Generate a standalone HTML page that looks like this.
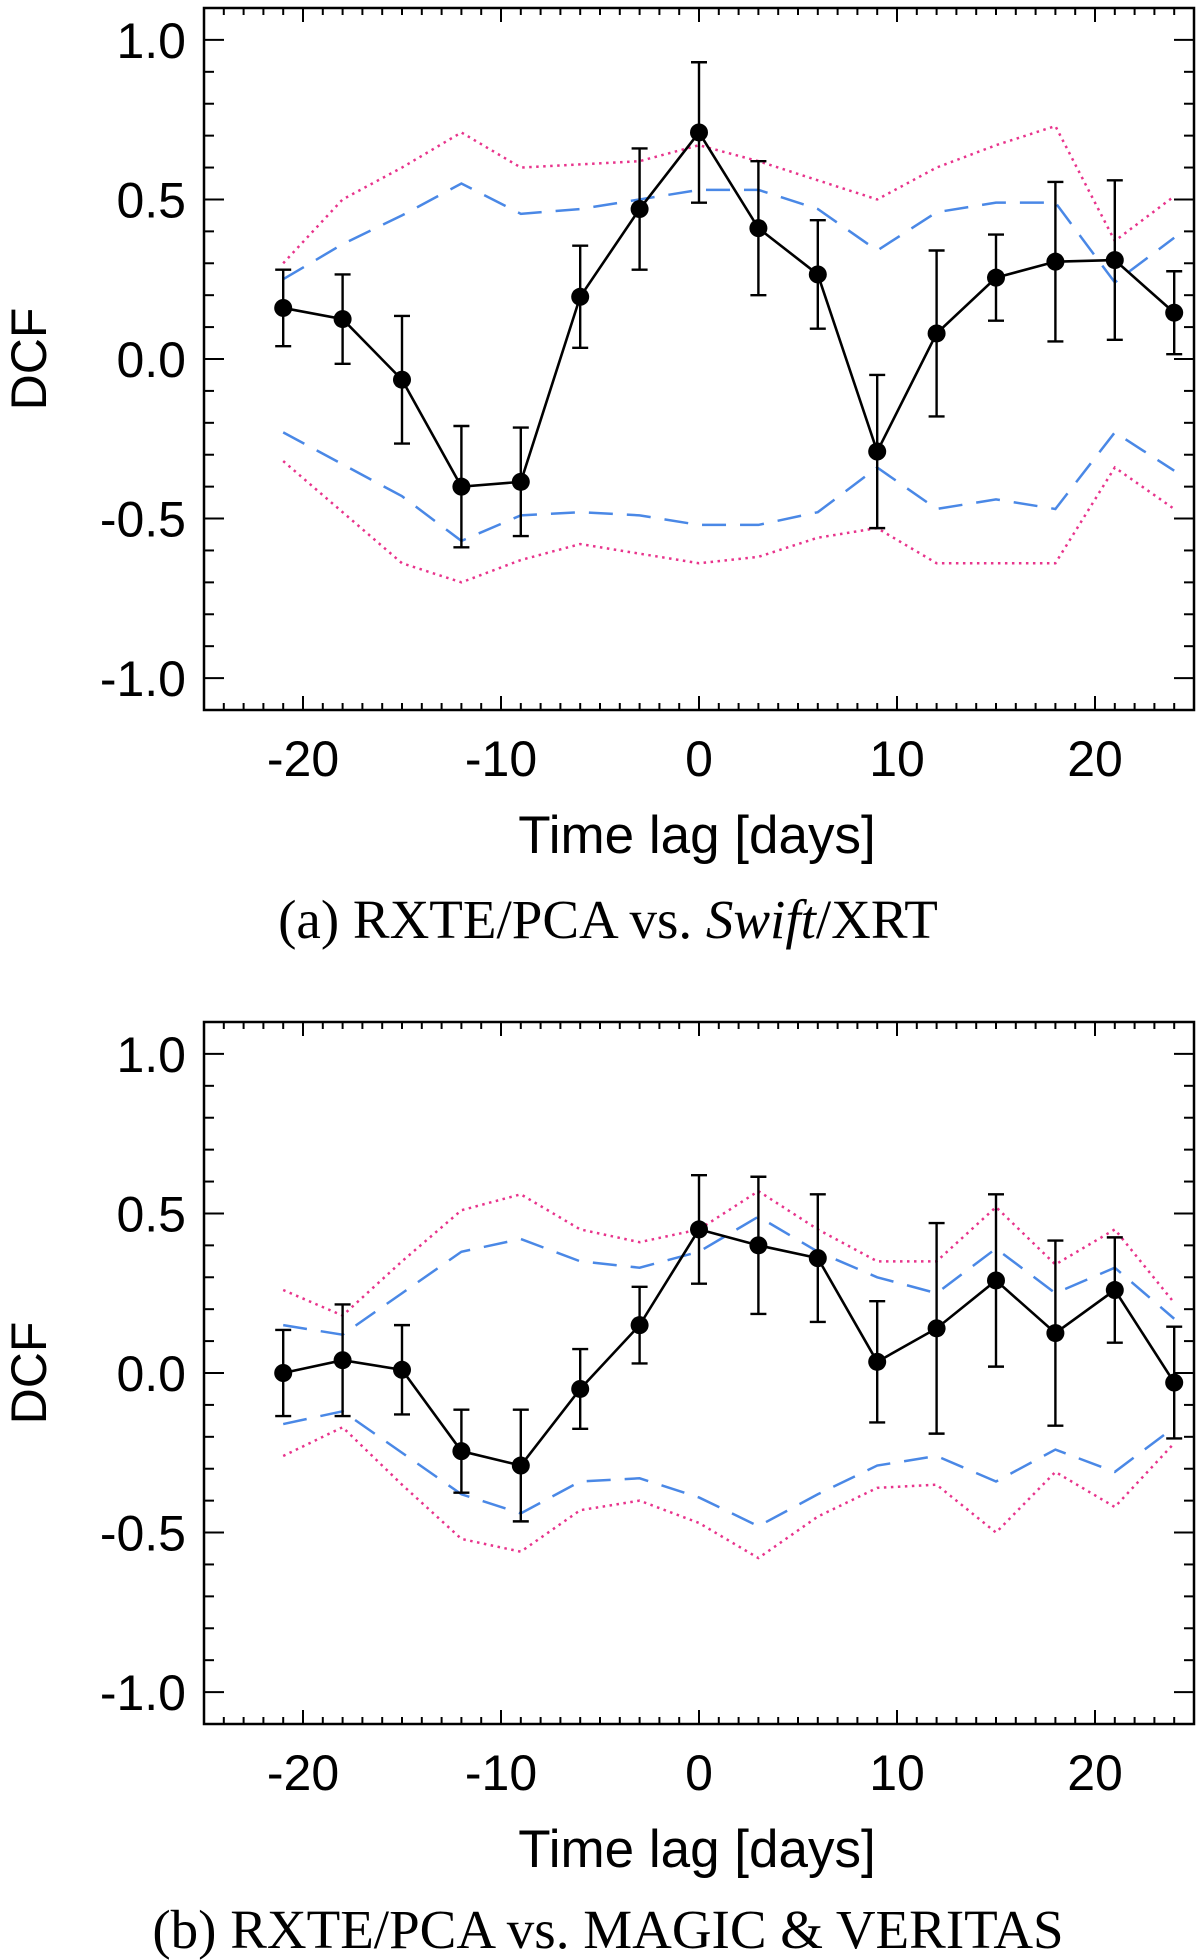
<!DOCTYPE html>
<html><head><meta charset="utf-8"><style>
html,body{margin:0;padding:0;background:#fff;}
svg{display:block;}
.tk{font-family:"Liberation Sans",Arial,sans-serif;font-size:50px;fill:#000;}
.tt{font-family:"Liberation Sans",Arial,sans-serif;font-size:53px;fill:#000;}
.cap{font-family:"Liberation Serif","Times New Roman",serif;font-size:55px;fill:#000;}
</style></head><body>
<svg id="fig" width="1200" height="1960" viewBox="0 0 1200 1960" xmlns="http://www.w3.org/2000/svg"></svg>
<script>
const lags = [-21,-18,-15,-12,-9,-6,-3,0,3,6,9,12,15,18,21,24];
const xTickLabels = [-20,-10,0,10,20];
const yTickLabels = ["-1.0","-0.5","0.0","0.5","1.0"];
const yTickValues = [-1.0,-0.5,0.0,0.5,1.0];

const dcfA = [0.16,0.125,-0.065,-0.40,-0.385,0.195,0.47,0.71,0.41,0.265,-0.29,0.08,0.255,0.305,0.31,0.145];
const errA = [0.12,0.14,0.2,0.19,0.17,0.16,0.19,0.22,0.21,0.17,0.24,0.26,0.135,0.25,0.25,0.13];
const blueUpA = [0.25,0.36,0.45,0.55,0.455,0.47,0.5,0.53,0.53,0.47,0.34,0.46,0.49,0.49,0.24,0.38];
const blueLoA = [-0.23,-0.33,-0.43,-0.57,-0.49,-0.48,-0.49,-0.52,-0.52,-0.48,-0.34,-0.47,-0.44,-0.47,-0.23,-0.35];
const pinkUpA = [0.30,0.5,0.6,0.71,0.6,0.61,0.62,0.67,0.62,0.56,0.50,0.6,0.67,0.73,0.37,0.51];
const pinkLoA = [-0.32,-0.48,-0.64,-0.70,-0.63,-0.58,-0.61,-0.64,-0.62,-0.56,-0.53,-0.64,-0.64,-0.64,-0.34,-0.47];

const dcfB = [0.0,0.04,0.01,-0.245,-0.29,-0.05,0.15,0.45,0.4,0.36,0.035,0.14,0.29,0.125,0.26,-0.03];
const errB = [0.135,0.175,0.14,0.13,0.175,0.125,0.12,0.17,0.215,0.2,0.19,0.33,0.27,0.29,0.165,0.175];
const blueUpB = [0.15,0.12,0.25,0.38,0.42,0.35,0.33,0.38,0.49,0.38,0.3,0.25,0.39,0.25,0.33,0.17];
const blueLoB = [-0.16,-0.12,-0.25,-0.38,-0.44,-0.34,-0.33,-0.39,-0.48,-0.38,-0.29,-0.26,-0.34,-0.24,-0.31,-0.17];
const pinkUpB = [0.26,0.18,0.35,0.51,0.56,0.45,0.41,0.45,0.57,0.45,0.35,0.35,0.52,0.34,0.45,0.22];
const pinkLoB = [-0.26,-0.17,-0.35,-0.52,-0.56,-0.43,-0.40,-0.47,-0.58,-0.45,-0.36,-0.35,-0.50,-0.31,-0.42,-0.22];

const NS="http://www.w3.org/2000/svg";
const svg=document.getElementById('fig');
function mk(tag,attrs,parent){const e=document.createElementNS(NS,tag);for(const k in attrs)e.setAttribute(k,attrs[k]);(parent||svg).appendChild(e);return e;}

function panel(id,top,dcf,err,bu,bl,pu,pl,captionParts,capY,capX){
  const L=204,R=1194,T=top,B=top+702;
  const X=v=>L+(v+25)/50*(R-L);
  const Y=v=>T+(1.1-v)/2.2*(B-T);
  const g=mk('g',{});
  
  
  const tg=mk('g',{stroke:'#000','stroke-width':2},g);
  
  
  for(let d=-25;d<=25;d++){
    const len=(d%10===0)?14:7;
    mk('line',{x1:X(d),x2:X(d),y1:B,y2:B-len},tg);
    mk('line',{x1:X(d),x2:X(d),y1:T,y2:T+len},tg);
  }
  for(let i=-11;i<=11;i++){
    const v=i/10; const len=(i%5===0)?20:10;
    mk('line',{x1:L,x2:L+len,y1:Y(v),y2:Y(v)},tg);
    mk('line',{x1:R,x2:R-len,y1:Y(v),y2:Y(v)},tg);
  }
  const frame=mk('rect',{x:L,y:T,width:R-L,height:B-T,fill:'none',stroke:'#000','stroke-width':2.5},g);
  
  
  yTickValues.forEach((v,i)=>{
    const t=mk('text',{x:186,y:Y(v)+18,'text-anchor':'end',class:'tk'},g);
    t.textContent=yTickLabels[i];
    
    
  });
  xTickLabels.forEach(v=>{
    const t=mk('text',{x:X(v),y:B+66,'text-anchor':'middle',class:'tk'},g);
    t.textContent=String(v);
    
    
  });
  const xt=mk('text',{x:697,y:B+143,'text-anchor':'middle',class:'tt'},g);
  xt.textContent='Time lag [days]';
  
  
  const yt=mk('text',{x:0,y:0,'text-anchor':'middle',class:'tk',transform:`translate(46,${Y(0)}) rotate(-90)`},g);
  yt.textContent='DCF';
  
  
  const pts=a=>a.map((v,i)=>X(lags[i])+','+Y(v)).join(' ');
  [[pu,'pink-upper'],[pl,'pink-lower']].forEach(([a,n])=>{
    const p=mk('polyline',{points:pts(a),fill:'none',stroke:'#e8348c','stroke-width':2.5,'stroke-dasharray':'2.5 4.5'},g);
    
    
  });
  [[bu,'blue-upper'],[bl,'blue-lower']].forEach(([a,n])=>{
    const p=mk('polyline',{points:pts(a),fill:'none',stroke:'#4a88e6','stroke-width':2.5,'stroke-dasharray':'24 14'},g);
    
    
  });
  dcf.forEach((v,i)=>{
    const x=X(lags[i]),y1=Y(v+err[i]),y2=Y(v-err[i]);
    const eb=mk('path',{d:`M${x},${y1}V${y2}M${x-8},${y1}H${x+8}M${x-8},${y2}H${x+8}`,stroke:'#000','stroke-width':2.4,fill:'none'},g);
    
    
  });
  const ln=mk('polyline',{points:pts(dcf),fill:'none',stroke:'#000','stroke-width':2.6},g);
  
  
  dcf.forEach((v,i)=>{
    const c=mk('circle',{cx:X(lags[i]),cy:Y(v),r:9,fill:'#000'},g);
    
    
  });
  const cap=mk('text',{x:capX,y:capY,'text-anchor':'middle',class:'cap'},g);
  cap.innerHTML=captionParts;
  
  
}
panel('a',8,dcfA,errA,blueUpA,blueLoA,pinkUpA,pinkLoA,'(a)  RXTE/PCA vs. <tspan font-style="italic">Swift</tspan>/XRT',938,608);
panel('b',1022,dcfB,errB,blueUpB,blueLoB,pinkUpB,pinkLoB,'(b)  RXTE/PCA vs. MAGIC &amp; VERITAS',1948,608);
</script>
</body></html>
